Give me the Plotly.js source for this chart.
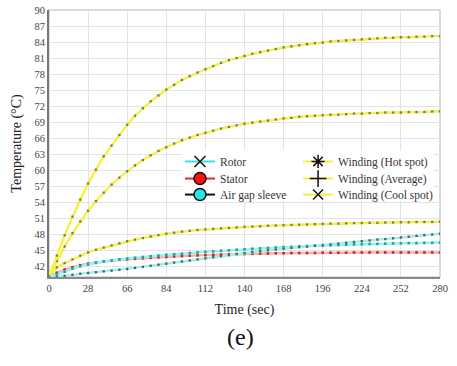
<!DOCTYPE html>
<html>
<head>
<meta charset="utf-8">
<script src="https://cdn.plot.ly/plotly-3.0.1.min.js"></script>
<style>
html,body{margin:0;padding:0;background:#fff;}
#chart{width:457px;height:366px;}
</style>
</head>
<body>
<div id="chart"></div>
<script>
// Time axis (sec)
var time = [0,5.6,11.2,16.8,22.4,28,33.6,39.2,44.8,50.4,56,61.6,67.2,72.8,78.4,84,89.6,95.2,100.8,106.4,112,117.6,123.2,128.8,134.4,140,145.6,151.2,156.8,162.4,168,173.6,179.2,184.8,190.4,196,201.6,207.2,212.8,218.4,224,229.6,235.2,240.8,246.4,252,257.6,263.2,268.8,274.4,280];

var rotor = [40,40.1,40.2,40.4,40.6,40.75,40.9,41.05,41.2,41.35,41.5,41.7,41.9,42.1,42.3,42.5,42.7,42.9,43.1,43.3,43.5,43.7,43.9,44.1,44.3,44.5,44.7,44.85,45.0,45.15,45.3,45.45,45.6,45.7,45.85,45.95,46.1,46.25,46.4,46.55,46.7,46.85,47.0,47.1,47.25,47.4,47.55,47.7,47.85,47.95,48.1];

var stator = [40,40.8,41.4,41.85,42.2,42.5,42.7,42.9,43.05,43.2,43.3,43.4,43.5,43.6,43.7,43.75,43.85,43.9,44.0,44.05,44.1,44.15,44.2,44.25,44.3,44.3,44.35,44.4,44.4,44.45,44.45,44.5,44.5,44.5,44.5,44.55,44.55,44.55,44.55,44.6,44.6,44.6,44.6,44.6,44.6,44.6,44.6,44.6,44.6,44.6,44.6];

var airGap = [40,40.5,41.0,41.6,42.0,42.35,42.65,42.9,43.1,43.3,43.45,43.6,43.75,43.9,44.0,44.15,44.25,44.35,44.5,44.6,44.7,44.8,44.9,45.0,45.1,45.2,45.3,45.35,45.45,45.5,45.6,45.65,45.75,45.8,45.85,45.9,45.95,46.0,46.05,46.1,46.15,46.2,46.2,46.25,46.3,46.3,46.35,46.35,46.4,46.4,46.45];

var hotSpot = [40,44.0,47.8,51.3,54.5,57.5,60.1,62.6,64.6,66.6,68.5,70.2,71.6,72.9,74.0,75.1,76.0,76.9,77.6,78.3,78.9,79.5,80.1,80.6,81.0,81.4,81.8,82.1,82.4,82.7,83.0,83.2,83.4,83.6,83.8,83.9,84.1,84.2,84.3,84.4,84.5,84.6,84.7,84.8,84.8,84.9,84.9,85.0,85.0,85.1,85.1];

var average = [40,43.0,45.7,48.2,50.4,52.4,54.2,55.8,57.3,58.6,59.8,60.9,61.9,62.8,63.6,64.3,65.0,65.6,66.1,66.6,67.0,67.4,67.8,68.1,68.4,68.7,68.9,69.1,69.3,69.5,69.7,69.8,70.0,70.1,70.2,70.3,70.4,70.4,70.5,70.6,70.6,70.7,70.7,70.8,70.8,70.8,70.9,70.9,70.9,71.0,71.0];

var coolSpot = [40,41.8,42.6,43.3,44.0,44.6,45.1,45.5,45.9,46.3,46.7,47.0,47.3,47.6,47.85,48.1,48.3,48.5,48.65,48.8,48.9,49.0,49.1,49.2,49.3,49.4,49.45,49.5,49.6,49.65,49.7,49.75,49.8,49.85,49.9,49.95,50.0,50.0,50.05,50.1,50.1,50.15,50.15,50.2,50.2,50.25,50.25,50.3,50.3,50.3,50.35];

var xTickVals = [0,28,56,84,112,140,168,196,224,252,280];
var xTickText = ["0","28","66","84","112","140","168","196","224","252","280"];
var yTickVals = [42,45,48,51,54,57,60,63,66,69,72,75,78,81,84,87,90];

var names = ["Rotor","Stator","Air gap sleeve","Winding (Hot spot)","Winding (Average)","Winding (Cool spot)"];

var FONT = 'Liberation Serif';
var YEL = '#f6f23c';

function dataTrace(y, lineColor, mColor, msize){
  return {x: time, y: y, type:'scatter', mode:'lines+markers', showlegend:false, hoverinfo:'skip',
    line:{color:lineColor, width:2.4},
    marker:{color:mColor, size:msize, symbol:'square', line:{width:0}}};
}
function legTrace(name, lineColor, mColor, sym, msize, mline, leg){
  return {x:[null], y:[null], type:'scatter', mode:'lines+markers', name:name, legend:leg,
    line:{color:lineColor, width:2},
    marker:{color:mColor, size:msize, symbol:sym, line:{color:mline, width:1.5}}};
}

var traces = [
  dataTrace(coolSpot, YEL, '#777', 2.3),
  dataTrace(average, YEL, '#777', 2.3),
  dataTrace(hotSpot, YEL, '#777', 2.3),
  dataTrace(stator, '#f7b0b0', '#c82828', 2.6),
  dataTrace(airGap, '#9af2ec', '#26a0a0', 2.6),
  dataTrace(rotor, '#9af2ec', '#5a5a5a', 2.3),
  legTrace(names[0], '#40e0e0', '#111', 'x-thin-open', 11, '#111', 'legend'),
  legTrace(names[1], '#ff2020', '#ff1010', 'circle', 12, '#111', 'legend2'),
  legTrace(names[2], '#111', '#22e5e5', 'circle', 12, '#111', 'legend3'),
  legTrace(names[3], YEL, '#111', 'asterisk-open', 11, '#111', 'legend4'),
  legTrace(names[4], YEL, '#111', 'cross-thin-open', 12, '#111', 'legend5'),
  legTrace(names[5], YEL, '#111', 'x-thin-open', 10, '#111', 'legend6')
];

function leg(x, y){
  return {x:x, y:y, bgcolor:'rgba(255,255,255,0)', borderwidth:0, font:{family:FONT, size:11.5, color:'#333'},
    yanchor:'top', xanchor:'left', itemclick:false, itemdoubleclick:false};
}

var layout = {
  width:457, height:366,
  margin:{l:49, r:17, t:10, b:89},
  paper_bgcolor:'#fff', plot_bgcolor:'#fff',
  font:{family:FONT, color:'#333'},
  xaxis:{range:[0,280], tickvals:xTickVals, ticktext:xTickText, showgrid:true, gridcolor:'#e3e3e3', gridwidth:1,
    zeroline:false, showline:true, linecolor:'#8a8a8a', linewidth:2, ticks:'', tickfont:{family:FONT, size:10.5, color:'#444'},
    title:{text:'Time (sec)', font:{family:FONT, size:14, color:'#222'}, standoff:12}},
  yaxis:{range:[40,90], tickvals:yTickVals, showgrid:true, gridcolor:'#e3e3e3', gridwidth:1,
    zeroline:false, showline:true, linecolor:'#777', linewidth:2, ticks:'', tickfont:{family:FONT, size:10.5, color:'#444'},
    title:{text:'Temperature (°C)', font:{family:FONT, size:14, color:'#222'}, standoff:10}},
  legend: leg(0.335, 0.487),
  legend2: leg(0.335, 0.423),
  legend3: leg(0.335, 0.363),
  legend4: leg(0.637, 0.487),
  legend5: leg(0.637, 0.423),
  legend6: leg(0.637, 0.363),
  shapes:[
    {type:'rect', xref:'paper', yref:'paper', x0:0, x1:1, y0:0, y1:1, layer:'below',
      line:{color:'#d0d0d0', width:1.5}},
    {type:'rect', xref:'paper', yref:'paper', x0:0.34, x1:0.985, y0:0.285, y1:0.475, layer:'above',
      fillcolor:'#ffffff', line:{width:0}}
  ],
  annotations:[{text:'(e)', xref:'paper', yref:'paper', x:0.49, y:-0.225, yanchor:'middle', xanchor:'center',
    showarrow:false, font:{family:FONT, size:24, color:'#111'}}]
};

Plotly.newPlot('chart', traces, layout, {displayModeBar:false, staticPlot:true});
</script>
</body>
</html>
